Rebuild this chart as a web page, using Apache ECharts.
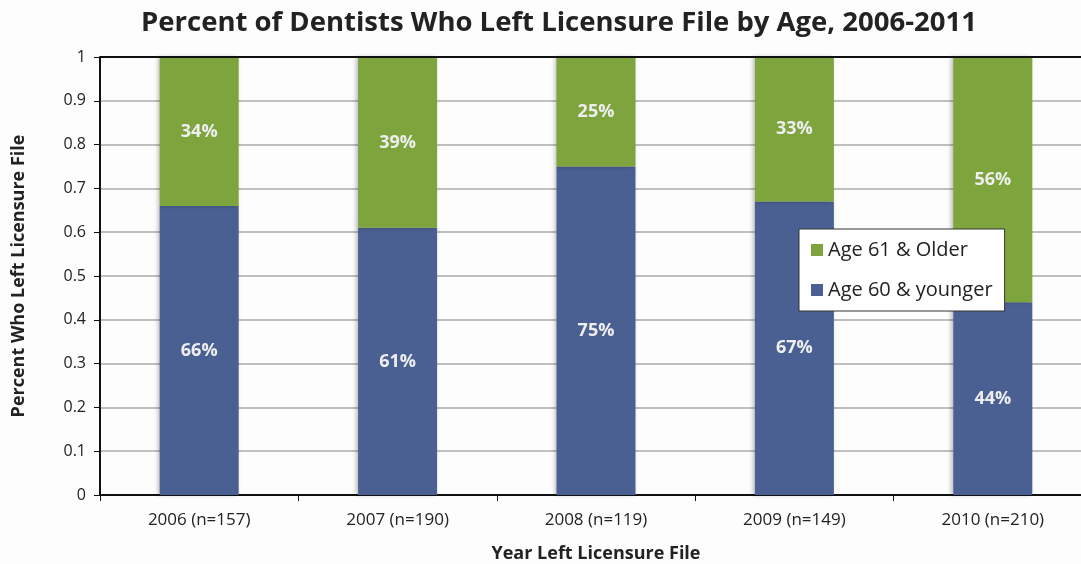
<!DOCTYPE html>
<html><head><meta charset="utf-8">
<script src="https://cdn.jsdelivr.net/npm/echarts@6/dist/echarts.min.js"></script>
<style>html,body{margin:0;padding:0;background:#fdfdfd;}#c{width:1081px;height:564px;}</style>
</head><body><div id="c"></div>
<script>
const categories = ['2006 (n=157)', '2007 (n=190)', '2008 (n=119)', '2009 (n=149)', '2010 (n=210)'];
const younger = [0.66, 0.61, 0.75, 0.67, 0.44];
const older = [0.34, 0.39, 0.25, 0.33, 0.56];
const yTicks = [0, 0.1, 0.2, 0.3, 0.4, 0.5, 0.6, 0.7, 0.8, 0.9, 1];

const FONT = '"Open Sans", "Noto Sans", sans-serif';
const chart = echarts.init(document.getElementById('c'));
const lbl = {
  show: true, position: 'inside', color: '#eeeeee', fontFamily: FONT,
  fontWeight: 'bold', fontSize: 18,
  formatter: p => Math.round(p.value * 100) + '%'
};
chart.setOption({
  backgroundColor: '#fdfdfd',
  animation: false,
  title: {
    text: 'Percent of Dentists Who Left Licensure File by Age, 2006-2011',
    left: 136, top: 4,
    textStyle: { fontFamily: FONT, fontWeight: 'bold', fontSize: 27.5, color: '#222' }
  },
  legend: {
    data: ['Age 61 & Older', 'Age 60 & younger'],
    orient: 'vertical', left: 799, top: 229,
    backgroundColor: '#ffffff', borderColor: '#333', borderWidth: 1,
    padding: [11, 12, 11, 12], itemGap: 20,
    icon: 'rect', itemWidth: 12, itemHeight: 12,
    textStyle: { fontFamily: FONT, fontSize: 20, color: '#222' }
  },
  grid: { left: 100, top: 57, width: 992, height: 438, outerBoundsMode: 'none', containLabel: false },
  xAxis: {
    type: 'category', data: categories,
    name: 'Year Left Licensure File', nameLocation: 'middle', nameGap: 50,
    nameTextStyle: { fontFamily: FONT, fontWeight: 'bold', fontSize: 18, color: '#222' },
    axisLine: { lineStyle: { color: '#111', width: 2 } },
    axisTick: { show: true, length: 6, lineStyle: { color: '#111' } },
    axisLabel: { fontFamily: FONT, fontSize: 17, color: '#222', margin: 17 }
  },
  yAxis: {
    type: 'value', min: 0, max: 1, interval: 0.1,
    name: 'Percent Who Left Licensure File', nameLocation: 'middle', nameGap: 72,
    nameTextStyle: { fontFamily: FONT, fontWeight: 'bold', fontSize: 18, color: '#222' },
    axisLine: { show: true, lineStyle: { color: '#111', width: 2 } },
    axisTick: { show: true, length: 6, lineStyle: { color: '#111' } },
    axisLabel: { fontFamily: FONT, fontSize: 16, color: '#222', margin: 14,
      formatter: v => { const t = yTicks.find(x => Math.abs(x - v) < 1e-9); return t === undefined ? '' : String(t); } },
    splitLine: { lineStyle: { color: '#aaaaaa', width: 1.5 } }
  },
  series: [
    { name: 'Age 60 & younger', type: 'bar', stack: 'a', data: younger, barWidth: 79,
      itemStyle: { color: '#4a6092', shadowColor: 'rgba(0,0,0,0.25)', shadowBlur: 4, shadowOffsetX: -2 }, label: lbl },
    { name: 'Age 61 & Older', type: 'bar', stack: 'a', data: older, barWidth: 79,
      itemStyle: { color: '#7ea43e', shadowColor: 'rgba(0,0,0,0.25)', shadowBlur: 4, shadowOffsetX: -2 }, label: lbl },
    { type: 'line', data: [], markLine: { silent: true, symbol: 'none', label: { show: false },
      lineStyle: { color: '#111', width: 2, type: 'solid' }, data: [{ yAxis: 1 }] } }
  ]
});
</script></body></html>
